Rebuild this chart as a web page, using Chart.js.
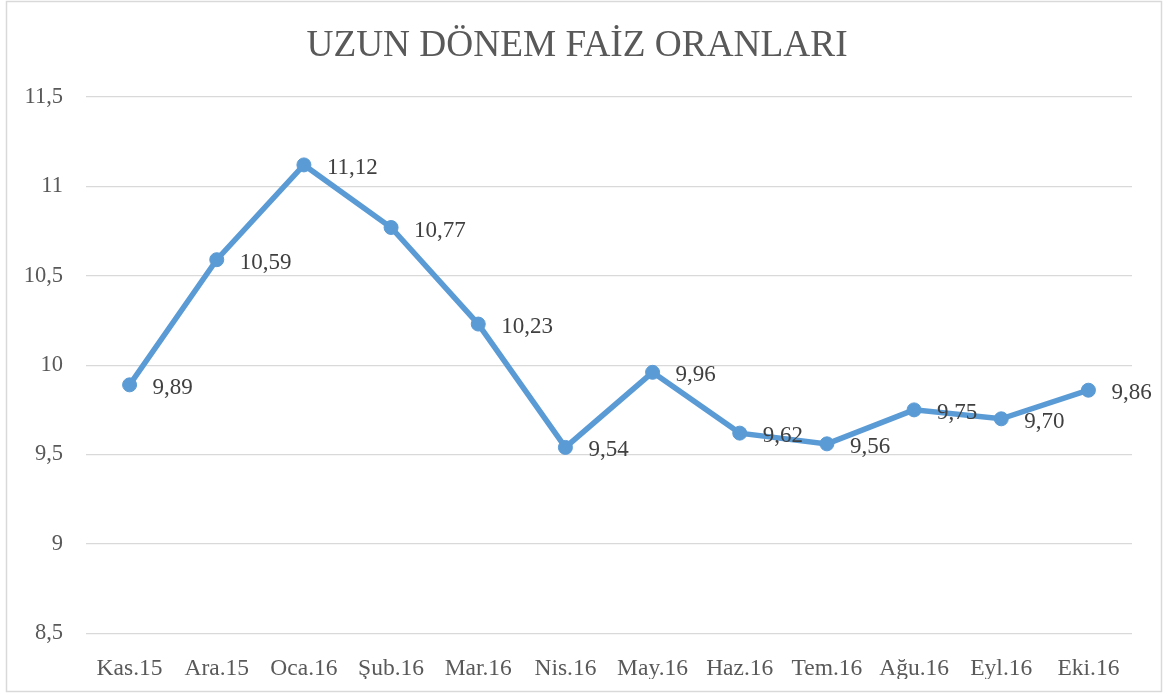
<!DOCTYPE html>
<html>
<head>
<meta charset="utf-8">
<script src="https://cdn.jsdelivr.net/npm/chart.js@4/dist/chart.umd.min.js"></script>
<style>
html,body{margin:0;padding:0;background:#fff;}
#wrap{position:relative;width:1168px;height:693px;}
</style>
</head>
<body>
<div id="wrap"><canvas id="c" width="1168" height="693"></canvas></div>
<script>
const titleText = 'UZUN DÖNEM FAİZ ORANLARI';
const categories = ['Kas.15','Ara.15','Oca.16','Şub.16','Mar.16','Nis.16','May.16','Haz.16','Tem.16','Ağu.16','Eyl.16','Eki.16'];
const rates = [9.89, 10.59, 11.12, 10.77, 10.23, 9.54, 9.96, 9.62, 9.56, 9.75, 9.70, 9.86];
const yMin = 8.5, yMax = 11.5, yStep = 0.5;

const serif = "'Liberation Serif','Times New Roman',serif";
const fmt = (v, d) => (d === undefined ? String(v) : v.toFixed(d)).replace('.', ',');

const frame = {
  id: 'frame',
  beforeDraw(chart) {
    const c = chart.ctx;
    c.save();
    c.fillStyle = '#fff';
    c.fillRect(0, 0, chart.width, chart.height);
    c.strokeStyle = '#d9d9d9';
    c.lineWidth = 1.5;
    c.strokeRect(6.5, 1.5, 1155, 690);
    c.restore();
  }
};

const valueLabels = {
  id: 'valueLabels',
  afterDatasetsDraw(chart) {
    const c = chart.ctx;
    const meta = chart.getDatasetMeta(0);
    const data = chart.data.datasets[0].data;
    c.save();
    c.font = '23px ' + serif;
    c.fillStyle = '#404040';
    c.textAlign = 'left';
    c.textBaseline = 'middle';
    meta.data.forEach((pt, i) => {
      c.fillText(fmt(data[i], 2), pt.x + 23, pt.y + 3);
    });
    c.restore();
  }
};

new Chart(document.getElementById('c'), {
  type: 'line',
  data: {
    labels: categories,
    datasets: [{
      data: rates,
      borderColor: '#5B9BD5',
      backgroundColor: '#5B9BD5',
      borderWidth: 5.5,
      pointRadius: 7,
      pointBorderWidth: 1,
      pointBorderColor: '#5B9BD5',
      pointBackgroundColor: '#5B9BD5',
      tension: 0,
      fill: false
    }]
  },
  options: {
    responsive: false,
    animation: false,
    devicePixelRatio: 1,
    layout: { padding: { left: 22, right: 36, top: 0, bottom: 14 } },
    plugins: {
      legend: { display: false },
      tooltip: { enabled: false },
      title: {
        display: true,
        text: titleText,
        color: '#595959',
        font: { family: serif, size: 37.3, weight: 'normal', lineHeight: 1.2 },
        padding: { top: 24, bottom: 28.2 }
      }
    },
    scales: {
      x: {
        offset: true,
        grid: { display: false },
        border: { display: false },
        ticks: { color: '#595959', font: { family: serif, size: 23.5 }, padding: 13, maxRotation: 0, autoSkip: false },
        afterFit(s) { s.height = 45.6; }
      },
      y: {
        min: yMin, max: yMax,
        grid: { color: '#d9d9d9', lineWidth: 1.2, drawTicks: false },
        border: { display: false },
        ticks: {
          stepSize: yStep,
          color: '#595959',
          font: { family: serif, size: 22.5 },
          padding: 23,
          callback: v => fmt(v)
        },
        afterFit(s) { s.width = 64; }
      }
    }
  },
  plugins: [frame, valueLabels]
});
</script>
</body>
</html>
